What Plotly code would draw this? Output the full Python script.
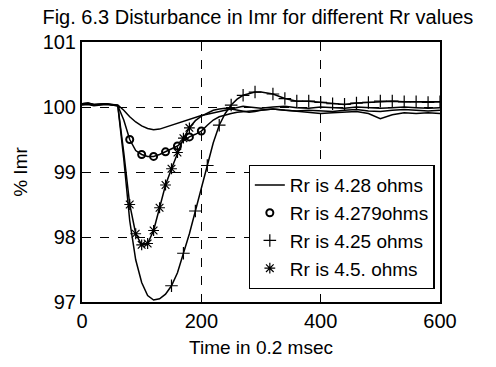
import plotly.graph_objects as go

time = [0, 10, 20, 30, 40, 50, 60, 70, 80, 90, 100, 110, 120, 130, 140, 150, 160, 170, 180, 190,
        200, 210, 220, 230, 240, 250, 260, 270, 280, 290, 300, 320, 340, 360, 380, 400, 420, 440,
        460, 480, 500, 520, 540, 560, 580, 600]

rr_428 = [100.05, 100.06, 100.04, 100.05, 100.05, 100.04, 100.03, 99.95, 99.85, 99.77, 99.71, 99.67,
          99.65, 99.66, 99.69, 99.72, 99.75, 99.79, 99.82, 99.85, 99.87, 99.89, 99.91, 99.93, 99.96,
          99.98, 100.0, 100.01, 100.0, 99.99, 99.98, 100.0, 100.01, 99.99, 99.98, 100.0, 99.99, 99.98,
          100.0, 99.99, 99.98, 99.99, 100.0, 99.99, 99.98, 99.99]

rr_4279 = [100.04, 100.05, 100.03, 100.04, 100.05, 100.03, 100.02, 99.8, 99.5, 99.33, 99.27, 99.24,
           99.24, 99.27, 99.31, 99.35, 99.4, 99.48, 99.54, 99.58, 99.63, 99.72, 99.8, 99.85, 99.88,
           99.9, 99.92, 99.93, 99.94, 99.95, 99.96, 99.97, 99.95, 99.94, 99.95, 99.94, 99.93, 99.95,
           99.96, 99.94, 99.93, 99.95, 99.96, 99.95, 99.94, 99.95]

rr_425 = [100.05, 100.06, 100.04, 100.05, 100.05, 100.04, 100.02, 99.2, 98.25, 97.65, 97.3, 97.1,
          97.03, 97.05, 97.12, 97.25, 97.45, 97.75, 98.05, 98.4, 98.75, 99.1, 99.45, 99.72, 99.9,
          100.03, 100.12, 100.18, 100.21, 100.23, 100.23, 100.2, 100.13, 100.09, 100.09, 100.07,
          100.05, 100.04, 100.06, 100.07, 100.09, 100.09, 100.08, 100.08, 100.07, 100.08]

rr_45 = [100.03, 100.04, 100.02, 100.03, 100.04, 100.03, 100.02, 99.3, 98.5, 98.05, 97.88, 97.9,
         98.1, 98.45, 98.8, 99.05, 99.3, 99.52, 99.68, 99.79, 99.86, 99.91, 99.95, 99.97, 99.98,
         99.97, 99.95, 99.93, 99.92, 99.93, 99.95, 99.97, 99.95, 99.93, 99.92, 99.9, 99.91, 99.92,
         99.93, 99.9, 99.82, 99.88, 99.91, 99.9, 99.91, 99.9]

labels = ["Rr is 4.28 ohms", "Rr is 4.279ohms", "Rr is 4.25 ohms", "Rr is 4.5. ohms"]

x_ticks = [0, 200, 400, 600]
y_ticks = [97, 98, 99, 100, 101]

FONT = "Liberation Sans, Arial, sans-serif"
LINE = dict(color="black", width=1.5)

fig = go.Figure()

# Rr 4.28 - plain line
fig.add_trace(go.Scatter(x=time, y=rr_428, mode="lines", line=LINE, name=labels[0]))

# Rr 4.279 - circles
fig.add_trace(go.Scatter(x=time, y=rr_4279, mode="lines", line=LINE, showlegend=False))
fig.add_trace(go.Scatter(x=time[8:22:2], y=rr_4279[8:22:2], mode="markers", name=labels[1],
                         marker=dict(symbol="circle-open", size=7, color="black",
                                     line=dict(width=2, color="black"))))

# Rr 4.25 - plus
fig.add_trace(go.Scatter(x=time, y=rr_425, mode="lines", line=LINE, showlegend=False))
fig.add_trace(go.Scatter(x=time[15:31:2] + time[31:], y=rr_425[15:31:2] + rr_425[31:],
                         mode="markers", name=labels[2],
                         marker=dict(symbol="cross-thin-open", size=9, color="black",
                                     line=dict(width=1.2, color="black"))))

# Rr 4.5 - stars
fig.add_trace(go.Scatter(x=time, y=rr_45, mode="lines", line=LINE, showlegend=False))
fig.add_trace(go.Scatter(x=time[8:19:1], y=rr_45[8:19:1], mode="markers", name=labels[3],
                         marker=dict(symbol="asterisk-open", size=9, color="black",
                                     line=dict(width=1.2, color="black"))))

fig.update_layout(
    width=496, height=367,
    margin=dict(l=82, r=56, t=42, b=62),
    paper_bgcolor="white", plot_bgcolor="white",
    font=dict(family=FONT, color="black", size=19),
    title=dict(text="Fig. 6.3 Disturbance in Imr for different Rr values",
               x=0.52, xanchor="center", y=0.953, yanchor="middle",
               font=dict(size=20, family=FONT, color="black")),
    showlegend=True,
    legend=dict(x=0.985, xanchor="right", y=0.05, yanchor="bottom",
                bgcolor="white", bordercolor="black", borderwidth=1.2,
                font=dict(size=19, family=FONT, color="black"), tracegroupgap=0,
                itemwidth=30),
)

fig.update_xaxes(range=[0, 600], tickvals=x_ticks, ticktext=[str(v) for v in x_ticks],
                 showline=True, linecolor="black", linewidth=2, mirror=True,
                 showgrid=True, gridcolor="black", gridwidth=1.3, griddash="dash",
                 zeroline=False, ticks="", tickfont=dict(size=20, color="black"),
                 title=dict(text="Time in 0.2 msec", font=dict(size=19, color="black"), standoff=10))
fig.update_yaxes(range=[97, 101], tickvals=y_ticks, ticktext=[str(v) for v in y_ticks],
                 showline=True, linecolor="black", linewidth=2, mirror=True,
                 showgrid=True, gridcolor="black", gridwidth=1.3, griddash="dash",
                 zeroline=False, ticks="", tickfont=dict(size=20, color="black"),
                 title=dict(text="% Imr", font=dict(size=19, color="black"), standoff=10))

fig.write_html("out.html",
               config={"displayModeBar": False},
               post_script="document.body.style.margin='0';document.body.style.padding='0';")
